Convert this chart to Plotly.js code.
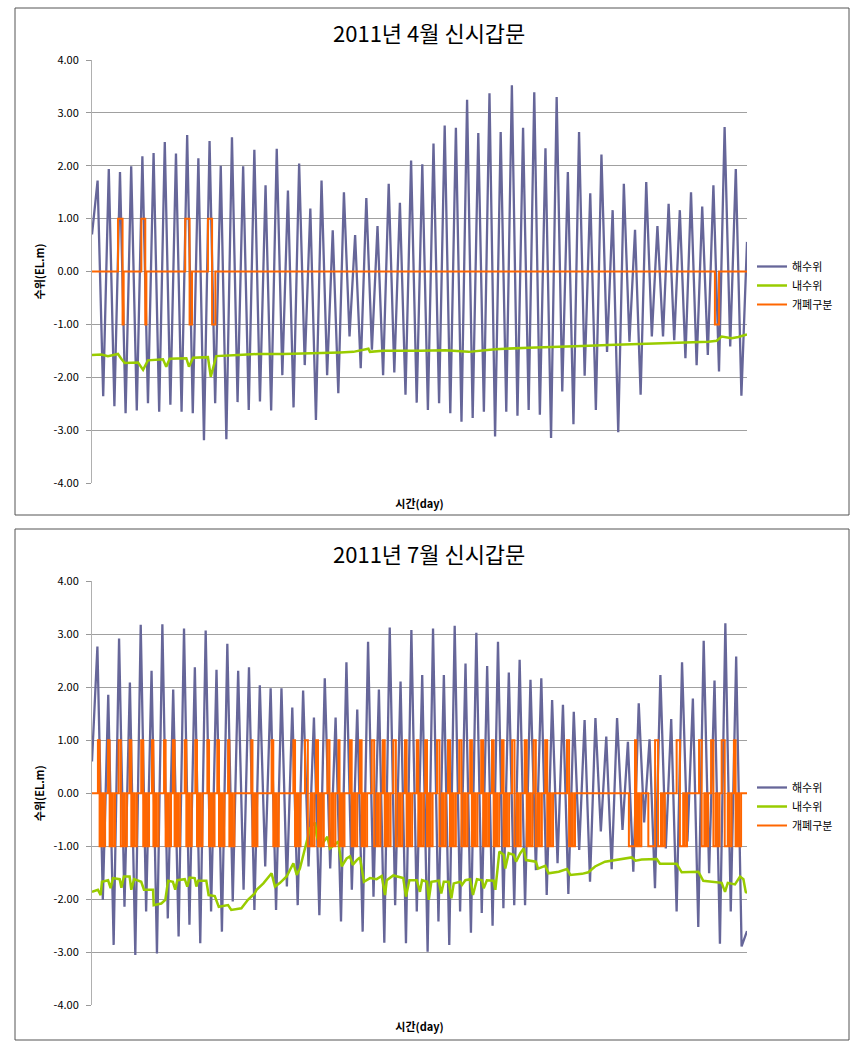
<!DOCTYPE html>
<html><head><meta charset="utf-8">
<script src="https://cdn.plot.ly/plotly-3.0.1.min.js"></script>
<style>html,body{margin:0;padding:0;background:#fff;}#chart{width:855px;height:1053px;}</style>
</head><body><div id="chart"></div>
<script>
// ---------- DATA ----------
const seriesNames = ['해수위', '내수위', '개폐구분'];
const titles = ['2011년 4월 신시갑문', '2011년 7월 신시갑문'];
const xTitle = '시간(day)';
const yTitle = '수위(EL.m)';
const yTickVals = [4, 3, 2, 1, 0, -1, -2, -3, -4];
const yTickText = ['4.00', '3.00', '2.00', '1.00', '0.00', '-1.00', '-2.00', '-3.00', '-4.00'];
const days1 = 30, days2 = 31;

// sea level: successive high / low water values (April), evenly spaced in time
const sea1 = [0.70,
 1.72,-2.36,1.94,-2.55,1.88,-2.68,1.99,-2.63,2.18,-2.49,2.24,-2.65,2.45,-2.52,2.23,-2.65,2.58,-2.68,2.14,-3.19,2.47,-2.49,2.00,-3.17,2.54,-2.47,1.99,-2.62,2.30,-2.46,
 1.63,-2.63,2.32,-1.96,1.53,-2.57,2.04,-1.77,1.19,-2.81,1.72,-1.96,0.78,-2.30,1.50,-1.23,0.69,-1.83,1.39,-1.48,0.86,-1.96,1.66,-1.91,1.30,-2.33,2.10,-2.48,
 2.03,-2.62,2.42,-2.49,2.76,-2.68,2.72,-2.84,3.25,-2.77,2.62,-2.65,3.37,-3.12,2.64,-2.65,3.52,-2.73,2.72,-2.62,3.39,-2.71,2.33,-3.15,3.30,-2.27,1.88,-2.89,
 2.64,-1.97,1.48,-2.62,2.21,-1.52,1.16,-3.04,1.66,-1.33,0.79,-2.33,1.69,-1.23,0.86,-1.23,1.28,-1.30,1.16,-1.64,1.50,-1.77,1.23,-1.58,1.63,-1.89,2.73,-1.42,1.94,-2.35,
 0.56];

// sea level (July)
const sea2 = [0.60,
 2.77,-2.01,1.86,-2.86,2.92,-2.14,2.09,-3.05,3.18,-2.23,2.31,-3.02,3.19,-2.36,1.96,-2.70,3.11,-2.48,2.38,-2.83,3.07,-2.23,2.33,-2.61,2.82,-2.04,2.31,-1.82,2.38,-2.20,
 2.04,-1.38,1.98,-2.20,1.98,-1.76,1.62,-2.11,1.94,-1.38,1.43,-2.30,2.17,-1.42,1.43,-2.42,2.47,-1.82,1.58,-2.61,2.86,-1.95,1.96,-2.82,3.13,-2.11,2.11,-2.83,
 3.08,-2.23,2.23,-2.99,3.11,-2.42,2.23,-2.86,3.16,-2.23,2.45,-2.63,3.03,-2.26,2.40,-2.50,2.86,-2.17,2.28,-2.11,2.52,-2.11,2.14,-1.45,2.17,-1.92,1.76,-1.32,1.67,-1.90,1.54,-1.07,
 1.38,-1.67,1.42,-0.72,1.07,-1.43,1.42,-0.69,0.97,-1.48,1.70,-0.55,1.02,-1.79,2.23,-1.04,1.40,-2.23,2.47,-0.91,1.79,-2.52,2.88,-1.51,2.13,-2.84,3.21,-2.23,2.58,-2.89,
 -2.60];

// inner water level (April): day, value
const inner1Day = [0,0.43,0.73,1.19,1.34,1.50,2.11,2.34,2.56,3.25,3.40,3.56,4.32,4.44,4.63,5.31,5.44,5.62,5.69,6.69,7.60,8.76,10.29,11.36,11.97,12.66,12.73,13.34,15.02,16.18,17.25,18.47,20.00,21.53,22.44,23.65,25.18,26.70,28.23,28.61,28.84,29.30,29.60,30];
const inner1Val = [-1.58,-1.57,-1.60,-1.56,-1.65,-1.73,-1.72,-1.86,-1.68,-1.66,-1.80,-1.65,-1.64,-1.80,-1.63,-1.62,-1.99,-1.72,-1.60,-1.58,-1.56,-1.56,-1.55,-1.53,-1.52,-1.46,-1.52,-1.50,-1.50,-1.49,-1.52,-1.47,-1.44,-1.43,-1.41,-1.39,-1.37,-1.36,-1.33,-1.31,-1.23,-1.26,-1.24,-1.19];

// inner water level (July): day, value
const inner2Day = [0,0.28,0.41,0.47,0.76,0.88,0.99,1.31,1.39,1.51,1.78,1.86,1.99,2.33,2.46,2.89,2.92,3.28,3.47,3.60,3.83,3.94,4.04,4.39,4.51,4.62,4.86,4.94,5.02,5.41,5.52,5.81,6.00,6.44,6.59,7.07,7.38,7.70,
 7.79,8.11,8.50,8.66,8.90,9.21,9.53,9.69,9.84,10.08,10.32,10.55,10.63,10.79,11.03,11.14,11.26,11.50,11.66,11.82,12.05,12.21,12.34,12.53,12.68,12.87,13.16,13.47,13.71,13.87,13.95,14.26,14.73,14.86,15.02,15.37,15.52,
 15.62,15.86,15.94,16.06,16.41,16.53,16.65,16.88,17.01,17.12,17.43,17.51,17.67,17.90,18.03,18.22,18.46,18.54,18.69,19.01,19.09,19.28,19.48,19.56,19.72,19.96,20.07,20.27,20.43,20.54,21.01,21.11,21.45,21.61,22.09,22.48,22.64,23.19,
 23.49,23.81,24.28,24.91,25.54,25.73,26.02,26.73,26.88,27.67,27.91,28.70,28.93,29.80,29.96,30.09,30.43,30.67,30.83,30.94,31];
const inner2Val = [-1.86,-1.82,-1.92,-1.67,-1.64,-1.79,-1.60,-1.62,-1.78,-1.57,-1.57,-1.82,-1.62,-1.67,-1.82,-1.82,-2.11,-2.08,-2.01,-1.65,-1.67,-1.82,-1.64,-1.62,-1.76,-1.59,-1.60,-1.76,-1.65,-1.65,-1.92,-1.94,-2.14,-2.11,-2.20,-2.17,-2.01,-1.89,
 -1.82,-1.70,-1.51,-1.76,-1.69,-1.57,-1.32,-1.54,-1.42,-1.01,-0.66,-0.55,-0.79,-1.01,-0.88,-0.82,-1.04,-0.97,-0.91,-1.38,-1.23,-1.19,-1.35,-1.26,-1.21,-1.67,-1.60,-1.62,-1.56,-1.92,-1.64,-1.55,-1.60,-1.95,-1.64,-1.64,-1.86,
 -1.64,-1.67,-2.01,-1.67,-1.65,-1.89,-1.67,-1.67,-1.98,-1.70,-1.67,-1.73,-1.64,-1.62,-1.92,-1.62,-1.64,-1.79,-1.64,-1.65,-1.82,-1.10,-1.16,-1.42,-1.13,-1.16,-1.29,-1.13,-1.04,-1.26,-1.29,-1.42,-1.37,-1.51,-1.48,-1.43,-1.54,-1.52,
 -1.49,-1.38,-1.29,-1.25,-1.21,-1.27,-1.25,-1.24,-1.33,-1.33,-1.49,-1.48,-1.65,-1.69,-1.86,-1.69,-1.72,-1.57,-1.62,-1.86,-1.88];

// gate status (April): change times (day) and new value
const gate1Day = [1.19,1.40,1.45,2.26,2.44,2.49,4.27,4.47,4.58,5.31,5.50,5.65,28.53,28.72];
const gate1Val = [1,-1,0,1,-1,0,1,-1,0,1,-1,0,-1,0];

// gate status (July): operation pulses [start day, end day] (open 1 then -1),
// and periods held at -1 before a pulse
const gate2Pulses = [[0.28,0.44],[0.76,0.91],[1.26,1.47],[1.78,1.94],[2.33,2.52],[2.84,2.97],[3.41,3.56],[3.83,3.99],[4.39,4.54],[4.89,5.05],[5.46,5.62],[5.93,6.09],[6.44,6.56],[7.54,7.65],
 [8.50,8.66],[9.53,9.69],[10.08,10.35],[10.60,10.79],[11.14,11.34],[11.66,11.77],[12.21,12.37],[12.68,12.84],[13.24,13.47],[13.76,13.95],[14.26,14.50],[14.81,14.97],[15.37,15.52],
 [15.77,15.94],[16.33,16.56],[16.85,17.04],[17.38,17.59],[17.90,18.06],[18.42,18.61],[18.93,19.09],[19.40,19.56],[19.88,20.11],[20.48,20.67],[20.90,21.11],[21.45,21.64],[22.48,22.68],
 [25.70,25.82],[26.65,26.93],[27.67,27.98],[28.73,28.98],[29.30,29.52],[29.80,30.09],[30.38,30.54]];
const gate2Lows = [[25.41,25.70],[26.33,26.65]];
const gate2DipGap = 0.08, gate2DipLen = 0.10; // short closing dip seen after each pulse

// ---------- BUILD ----------
function evenX(n, days){ const a=[]; for(let i=0;i<n;i++) a.push(i*days/(n-1)); return a; }
function stepSeries(events, days){
  events.sort((a,b)=>a[0]-b[0]);
  const x=[0], y=[0]; let cur=0;
  for(const [t,v] of events){ x.push(t); y.push(cur); x.push(t); y.push(v); cur=v; }
  x.push(days); y.push(cur);
  return {x,y};
}
const ev1 = gate1Day.map((d,i)=>[d, gate1Val[i]]);
const g1 = stepSeries(ev1, days1);
const ev2 = [];
gate2Pulses.forEach(([s,e])=>{
  const m=(s+e)/2;
  ev2.push([s,1],[m,-1],[e,0],[e+gate2DipGap,-1],[e+gate2DipGap+gate2DipLen,0]);
});
gate2Lows.forEach(([s,e])=>{ ev2.push([s,-1]); });
const g2 = stepSeries(ev2, days2);

const cSea='#666699', cIn='#99cc00', cGate='#ff6600';
const traces = [
  {x: evenX(sea1.length, days1), y: sea1, name: seriesNames[0], mode:'lines', line:{color:cSea,width:2.3}, xaxis:'x', yaxis:'y', legend:'legend'},
  {x: inner1Day, y: inner1Val, name: seriesNames[1], mode:'lines', line:{color:cIn,width:2.5}, xaxis:'x', yaxis:'y', legend:'legend'},
  {x: g1.x, y: g1.y, name: seriesNames[2], mode:'lines', line:{color:cGate,width:2}, xaxis:'x', yaxis:'y', legend:'legend'},
  {x: evenX(sea2.length, days2), y: sea2, name: seriesNames[0], mode:'lines', line:{color:cSea,width:2.3}, xaxis:'x2', yaxis:'y2', legend:'legend2'},
  {x: inner2Day, y: inner2Val, name: seriesNames[1], mode:'lines', line:{color:cIn,width:2.5}, xaxis:'x2', yaxis:'y2', legend:'legend2'},
  {x: g2.x, y: g2.y, name: seriesNames[2], mode:'lines', line:{color:cGate,width:2}, xaxis:'x2', yaxis:'y2', legend:'legend2'}
];

const H=1053, W=855;
const fontFam = 'Noto Sans CJK KR, DejaVu Sans, sans-serif';
function xa(days){
  return {domain:[92/W, 747/W], range:[0,days], showticklabels:false, showgrid:false, zeroline:false, showline:false, ticks:'',
    title:{text:'<b>'+xTitle+'</b>', font:{size:11,color:'#000',family:fontFam}, standoff:17}, automargin:false};
}
function ya(top, bottom){
  return {domain:[1-bottom/H, 1-top/H], range:[-4,4], tickvals:yTickVals, ticktext:yTickText, ticks:'outside', ticklen:5, tickcolor:'#999',
    ticklabelstandoff:5, showline:true, linecolor:'#b0b0b0', linewidth:1, showgrid:true, gridcolor:'#a0a0a0', gridwidth:1, zeroline:false,
    tickfont:{size:11,color:'#000',family:fontFam}, title:{text:'<b>'+yTitle+'</b>', font:{size:11,color:'#000',family:fontFam}, standoff:6}, automargin:false};
}
const layout = {
  width:W, height:H, margin:{l:0,r:0,t:0,b:0}, paper_bgcolor:'#fff', plot_bgcolor:'#fff',
  font:{family:fontFam, color:'#000'},
  xaxis: Object.assign(xa(days1), {anchor:'y'}),
  yaxis: Object.assign(ya(60, 483), {anchor:'x'}),
  xaxis2: Object.assign(xa(days2), {anchor:'y2'}),
  yaxis2: Object.assign(ya(581.3, 1005.3), {anchor:'x2'}),
  legend: {x:752/W, y:1-252/H, xanchor:'left', yanchor:'top', bgcolor:'rgba(0,0,0,0)', font:{size:11,family:fontFam}, tracegroupgap:0},
  legend2:{x:752/W, y:1-773/H, xanchor:'left', yanchor:'top', bgcolor:'rgba(0,0,0,0)', font:{size:11,family:fontFam}, tracegroupgap:0},
  showlegend:true,
  annotations:[
    {text:titles[0], xref:'paper', yref:'paper', x:429/W, y:1-32/H, showarrow:false, font:{size:22,family:fontFam,color:'#000'}, xanchor:'center', yanchor:'middle'},
    {text:titles[1], xref:'paper', yref:'paper', x:429/W, y:1-553/H, showarrow:false, font:{size:22,family:fontFam,color:'#000'}, xanchor:'center', yanchor:'middle'}
  ],
  shapes:[
    {type:'rect', xref:'paper', yref:'paper', x0:15/W, x1:849/W, y0:1-515/H, y1:1-8/H, line:{color:'#555',width:1}},
    {type:'rect', xref:'paper', yref:'paper', x0:15/W, x1:849/W, y0:1-1040/H, y1:1-529/H, line:{color:'#555',width:1}}
  ]
};
Plotly.newPlot('chart', traces, layout, {staticPlot:true, displayModeBar:false});
</script></body></html>
